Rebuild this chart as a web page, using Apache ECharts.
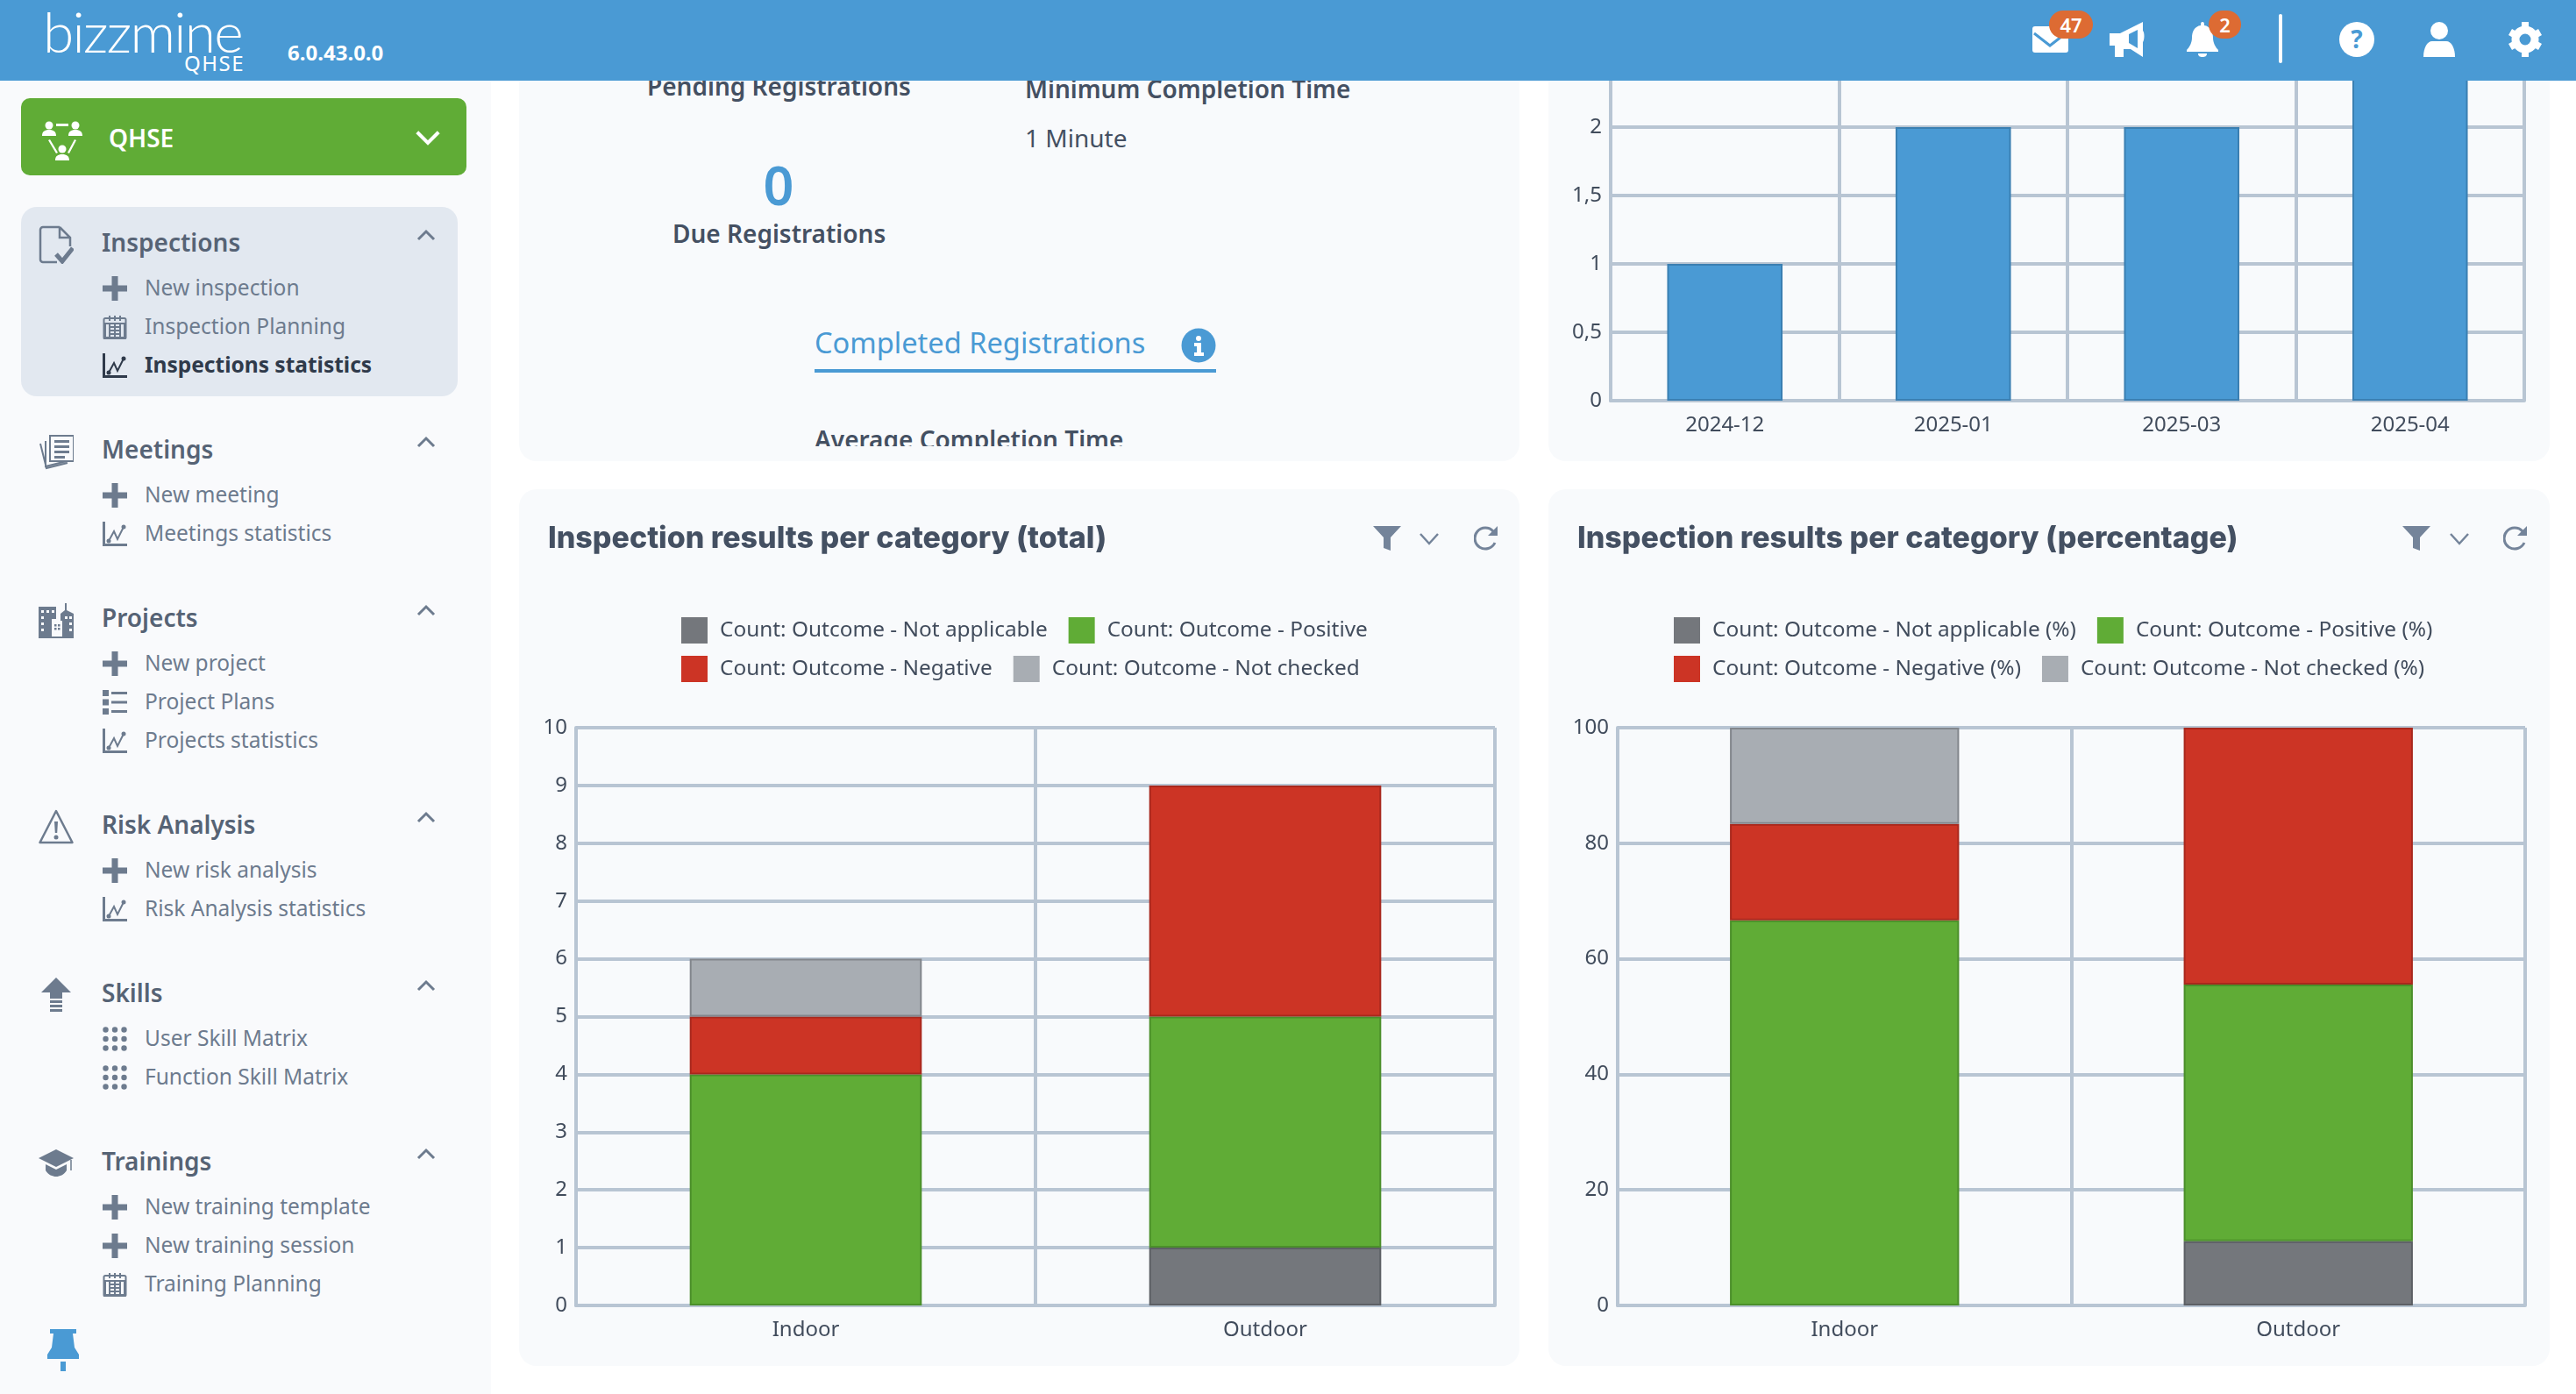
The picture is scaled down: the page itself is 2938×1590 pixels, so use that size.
<!DOCTYPE html>
<html>
<head>
<meta charset="utf-8">
<title>Inspections statistics</title>
<script src="https://cdn.jsdelivr.net/npm/echarts@6/dist/echarts.min.js"></script>
<style>
    html, body { margin: 0; padding: 0; width: 2938px; height: 1590px; overflow: hidden; background: #fff; font-family: "Noto Sans", sans-serif; }
    .abs { position: absolute; }
    .t { position: absolute; white-space: nowrap; line-height: 40px; height: 40px; }
    #header { position: absolute; left: 0; top: 0; width: 2938px; height: 92px; background: #4a9ad4; z-index: 5; }
    #sidebar { position: absolute; left: 0; top: 0; width: 560px; height: 1590px; background: #f9fafc; }
    .panel { position: absolute; background: #f8fafc; border-radius: 20px; overflow: hidden; }
    .chart { position: absolute; }
    .navTitle { font-size: 28px; font-weight: 600; color: #566375; }
    .navItem { font-size: 24.5px; color: #6d7b8e; }
    .navItem.on { font-weight: 700; color: #2f3a4a; }
    .ink { font-size: 28px; font-weight: 600; color: #445062; }
    svg { position: absolute; overflow: visible; }
</style>
</head>
<body>
<svg width="0" height="0" style="position:absolute">
    <defs>
        <symbol id="i-plus" viewBox="0 0 28 28"><path d="M10.500 0h7v10.500H28v7H17.500V28h-7V17.500H0v-7h10.500z" fill="currentColor"/></symbol>
        <symbol id="i-cal" viewBox="0 0 28 28"><path d="M3 4h22a1.500 1.500 0 0 1 1.500 1.500V26a1.500 1.500 0 0 1-1.500 1.500H3A1.500 1.500 0 0 1 1.500 26V5.500A1.500 1.500 0 0 1 3 4zM3 10v16h22V10zM7 14h14M7 18h14M7 22h14M8 10v16M14 10v16M20 10v16M8 1v6M14 1v6M20 1v6" fill="none" stroke="currentColor" stroke-width="2"/></symbol>
        <symbol id="i-chart" viewBox="0 0 28 28"><path d="M1.500 0v26.500H28" fill="none" stroke="currentColor" stroke-width="3"/><path d="M7 22l6-11 4 9 7-14" fill="none" stroke="currentColor" stroke-width="2"/><circle cx="7" cy="22" r="2.500" fill="currentColor"/><circle cx="24" cy="6" r="2.500" fill="currentColor"/></symbol>
        <symbol id="i-list" viewBox="0 0 28 28"><path d="M0 0h7v7H0zM0 10.500h7v7H0zM0 21h7v7H0zM10 2h18v3H10zM10 12.500h18v3H10zM10 23h18v3H10z" fill="currentColor"/></symbol>
        <symbol id="i-dots" viewBox="0 0 28 28"><g fill="currentColor"><circle cx="3.500" cy="3.500" r="3.200"/><circle cx="14" cy="3.500" r="3.200"/><circle cx="24.500" cy="3.500" r="3.200"/><circle cx="3.500" cy="14" r="3.200"/><circle cx="14" cy="14" r="3.200"/><circle cx="24.500" cy="14" r="3.200"/><circle cx="3.500" cy="24.500" r="3.200"/><circle cx="14" cy="24.500" r="3.200"/><circle cx="24.500" cy="24.500" r="3.200"/></g></symbol>
        <symbol id="i-doc" viewBox="0 0 40 44"><path d="M24 2H5a3 3 0 0 0-3 3v34a3 3 0 0 0 3 3h16M24 2l12 12v10M24 2v12h12" fill="none" stroke="currentColor" stroke-width="2.500"/><path d="M20 33l7 8 12-15" fill="none" stroke="currentColor" stroke-width="5"/></symbol>
        <symbol id="i-papers" viewBox="0 0 40 40"><path d="M13 2h27v29H13z" fill="#f9fafc" stroke="currentColor" stroke-width="2"/><path d="M18 7h17v3H18zM18 13h17v3H18zM18 19h17v3H18zM18 25h12v3H18z" fill="currentColor"/><path d="M8 8v29l24-6M2 11l7 28 24-6" fill="none" stroke="currentColor" stroke-width="2"/></symbol>
        <symbol id="i-city" viewBox="0 0 40 42"><path d="M0 6h20v14h-5v15h10V14l5-4V2h2v8l8 4v28H0z" fill="currentColor"/><path d="M3 10h3v3H3zM9 10h3v3H9zM15 10h3v3h-3zM3 17h3v3H3zM3 24h3v3H3zM3 31h3v3H3zM30 17h3v3h-3zM35 17h3v3h-3zM35 24h3v3h-3zM35 31h3v3h-3zM15 22h12v18H15z" fill="#f9fafc"/><path d="M18 26h2.500v2.500H18zM22 26h2.500v2.500H22zM18 30h2.500v2.500H18zM22 30h2.500v2.500H22z" fill="currentColor"/></symbol>
        <symbol id="i-warn" viewBox="0 0 40 40"><path d="M20 2l18.500 36h-37z" fill="none" stroke="currentColor" stroke-width="2.500" stroke-linejoin="round"/><path d="M18 14h4l-.800 13h-2.400z" fill="currentColor"/><circle cx="20" cy="32" r="2.500" fill="currentColor"/></symbol>
        <symbol id="i-up" viewBox="0 0 40 40"><path d="M20 0l17 17H27v7H13v-7H3zM13 26h14v3H13zM13 31h14v3H13zM13 36h14v3H13z" fill="currentColor"/></symbol>
        <symbol id="i-grad" viewBox="0 0 40 32"><path d="M20 0l20 10-20 10L0 10z" fill="currentColor"/><path d="M8 17l12 6 12-6v7c-3 5-8 7-12 7s-9-2-12-7z" fill="currentColor"/><path d="M37 12v12" stroke="currentColor" stroke-width="1.500"/></symbol>
        <symbol id="i-chev" viewBox="0 0 22 14"><path d="M2 12l9-9 9 9" fill="none" stroke="currentColor" stroke-width="3"/></symbol>
        <symbol id="i-funnel" viewBox="0 0 32 28"><path d="M0 0h32L20 13v15l-8-3V13z" fill="currentColor"/></symbol>
        <symbol id="i-refresh" viewBox="0 0 28 28"><path d="M24 19a12 12 0 1 1-2-13" fill="none" stroke="currentColor" stroke-width="3"/><path d="M27 0v11H16z" fill="currentColor"/></symbol>
    </defs>
</svg>

<div id="sidebar"></div>

<div class="panel" style="left:592px;top:40px;width:1141px;height:486px"></div>
<div class="abs" id="topLeft" style="left:592px;top:40px;width:1141px;height:469px;overflow:hidden">
    <div class="t ink" style="left:146px;top:38px">Pending Registrations</div>
    <div class="t ink" style="left:577px;top:41px">Minimum Completion Time</div>
    <div class="t" style="left:577px;top:97px;font-size:28px;color:#445062">1 Minute</div>
    <div class="t" style="left:196px;width:200px;text-align:center;top:141px;font-size:61px;font-weight:600;color:#4a9ad4;line-height:60px;height:60px">0</div>
    <div class="t ink" style="left:175px;top:206px">Due Registrations</div>
    <div class="t" style="left:337px;top:331px;font-size:32.6px;color:#4a9ad4">Completed Registrations</div>
    <svg style="left:755px;top:334px" width="40" height="40" viewBox="0 0 40 40"><circle cx="20" cy="20" r="19.500" fill="#4a9ad4"/><circle cx="20" cy="12" r="3" fill="#fff"/><path d="M15 17h8v11h3v4H15v-4h3v-7h-3z" fill="#fff"/></svg>
    <div class="abs" style="left:337px;top:381px;width:458px;height:4px;background:#4a9ad4"></div>
    <div class="t ink" style="left:337px;top:441px">Average Completion Time</div>
</div>

<div class="panel" style="left:1766px;top:40px;width:1142px;height:486px"></div>
<div class="panel" style="left:592px;top:558px;width:1141px;height:1000px"></div>
<div class="panel" style="left:1766px;top:558px;width:1142px;height:1000px"></div>

<div class="chart" id="chartMonth" style="left:1766px;top:-60px;width:1142px;height:586px"></div>
<div class="chart" id="chartTotal" style="left:592px;top:558px;width:1141px;height:1000px"></div>
<div class="chart" id="chartPct" style="left:1766px;top:558px;width:1142px;height:1000px"></div>

<svg style="left:1566px;top:600px;color:#74849a" width="32" height="28"><use href="#i-funnel"/></svg>
<svg style="left:1618px;top:607px;color:#74849a" width="24" height="15" viewBox="0 0 24 15"><path d="M2 2l10 11L22 2" fill="none" stroke="currentColor" stroke-width="2.500"/></svg>
<svg style="left:1681px;top:600px;color:#74849a" width="28" height="28"><use href="#i-refresh"/></svg>
<svg style="left:2740px;top:600px;color:#74849a" width="32" height="28"><use href="#i-funnel"/></svg>
<svg style="left:2793px;top:607px;color:#74849a" width="24" height="15" viewBox="0 0 24 15"><path d="M2 2l10 11L22 2" fill="none" stroke="currentColor" stroke-width="2.500"/></svg>
<svg style="left:2855px;top:600px;color:#74849a" width="28" height="28"><use href="#i-refresh"/></svg>

<div id="header">
    <div class="t" style="left:49px;top:6px;font-family:Lato;font-weight:300;font-size:64px;color:#fff;line-height:60px;height:60px;letter-spacing:-1.700px">bizzmine</div>
    <div class="t" style="left:210px;top:52px;font-size:24px;color:#fff;letter-spacing:1.500px">QHSE</div>
    <div class="t" style="left:328px;top:40px;font-size:24px;font-weight:700;color:#fff">6.0.43.0.0</div>

    <svg style="left:2318px;top:30px" width="41" height="30" viewBox="0 0 41 30"><rect width="41" height="30" rx="3" fill="#fff"/><path d="M2 8l18 14L38 8" fill="none" stroke="#4a9ad4" stroke-width="3"/></svg>
    <div class="abs" style="left:2337px;top:12px;width:50px;height:32px;border-radius:16px;background:#dd6b33;color:#fff;font-size:22px;font-weight:600;line-height:32px;text-align:center">47</div>
    <svg style="left:2406px;top:25px" width="40" height="40" viewBox="0 0 40 40"><path d="M0 13h12L38 0v10c2 2 2 10 0 13v17L24 31H16v9H6V27H0z" fill="#fff"/><path d="M32 9v21l-10-6V14z" fill="#4a9ad4"/></svg>
    <svg style="left:2494px;top:25px" width="36" height="40" viewBox="0 0 36 40"><path d="M18 0c2 0 2 2 2 4 7 1 10 7 10 14 0 6 3 11 6 14v2H0v-2c3-3 6-8 6-14C6 11 9 5 16 4c0-2 0-4 2-4zM13 36h10c0 3-2 4-5 4s-5-1-5-4z" fill="#fff"/></svg>
    <div class="abs" style="left:2519px;top:12px;width:37px;height:32px;border-radius:16px;background:#dd6b33;color:#fff;font-size:22px;font-weight:600;line-height:32px;text-align:center">2</div>
    <div class="abs" style="left:2599px;top:16px;width:4px;height:56px;border-radius:2px;background:#fff"></div>
    <svg style="left:2668px;top:25px" width="40" height="40" viewBox="0 0 40 40"><circle cx="20" cy="20" r="20" fill="#fff"/><text x="20" y="30" text-anchor="middle" font-size="28" font-weight="700" font-family="Noto Sans" fill="#4a9ad4">?</text></svg>
    <svg style="left:2764px;top:25px" width="36" height="40" viewBox="0 0 36 40"><ellipse cx="18" cy="10" rx="10" ry="10" fill="#fff"/><path d="M0 40c0-10 4-18 10-18h16c6 0 10 8 10 18z" fill="#fff"/></svg>
    <svg style="left:2861px;top:25px" width="38" height="40" viewBox="0 0 38 40"><circle cx="19" cy="20" r="11" fill="none" stroke="#fff" stroke-width="9"/><path d="M15 0h8v8h-8zM15 32h8v8h-8zM0 15l4-7 7 4-4 7zM38 25l-4 7-7-4 4-7zM0 25l4 7 7-4-4-7zM38 15l-4-7-7 4 4 7z" fill="#fff"/></svg>
</div>

<script type="text/javascript">
    // values
    var monthCategories = ['2024-12', '2025-01', '2025-03', '2025-04'];
    var monthValues = [1, 2, 2, 3];

    var outcomeCategories = ['Indoor', 'Outdoor'];
    var notApplicable = [null, 1];
    var positive = [4, 4];
    var negative = [1, 4];
    var notChecked = [1, null];

    var notApplicablePct = [null, 11.11];
    var positivePct = [66.67, 44.44];
    var negativePct = [16.67, 44.44];
    var notCheckedPct = [16.67, null];

    var outcomeNames = ['Count: Outcome - Not applicable', 'Count: Outcome - Positive', 'Count: Outcome - Negative', 'Count: Outcome - Not checked'];
    var outcomeNamesPct = ['Count: Outcome - Not applicable (%)', 'Count: Outcome - Positive (%)', 'Count: Outcome - Negative (%)', 'Count: Outcome - Not checked (%)'];
    var outcomeColors = ['#74777c', '#60ac36', '#cc3425', '#a8adb3'];
    var outcomeBorders = ['#5c5f64', '#4b8f2a', '#a9281d', '#82868c'];

    var navTitles = ['Inspections', 'Meetings', 'Projects', 'Risk Analysis', 'Skills', 'Trainings'];
    var navIcons = ['i-doc', 'i-papers', 'i-city', 'i-warn', 'i-up', 'i-grad'];
    var navTops = [276, 512, 704, 940, 1132, 1324];
    var navItems = [
        [['New inspection', 'i-plus'], ['Inspection Planning', 'i-cal'], ['Inspections statistics', 'i-chart']],
        [['New meeting', 'i-plus'], ['Meetings statistics', 'i-chart']],
        [['New project', 'i-plus'], ['Project Plans', 'i-list'], ['Projects statistics', 'i-chart']],
        [['New risk analysis', 'i-plus'], ['Risk Analysis statistics', 'i-chart']],
        [['User Skill Matrix', 'i-dots'], ['Function Skill Matrix', 'i-dots']],
        [['New training template', 'i-plus'], ['New training session', 'i-plus'], ['Training Planning', 'i-cal']]
    ];

    var gridColor = '#b8c5d3';
    var textColor = '#414c5c';
    var fontName = 'Noto Sans';

    // sidebar
    var html = '';
    html += '<div class="abs" style="left:24px;top:112px;width:508px;height:88px;border-radius:10px;background:#60ac36"></div>';
    html += '<svg style="left:48px;top:138px" width="46" height="46" viewBox="0 0 46 46" fill="#fff"><circle cx="8" cy="5" r="4.500"/><circle cx="38" cy="5" r="4.500"/><circle cx="23" cy="32" r="4.500"/><path d="M0 17c0-5 3-7 8-7s8 2 8 7zM30 17c0-5 3-7 8-7s8 2 8 7zM15 45c0-5 3-7 8-7s8 2 8 7zM16 3h14v3H16z"/><path d="M7 22l9 15 2-1-9-15zM39 22l-8 15-2-1 8-15z"/></svg>';
    html += '<div class="t" style="left:124px;top:137px;font-size:28px;font-weight:600;color:#fff">QHSE</div>';
    html += '<svg style="left:473px;top:148px;color:#fff;transform:rotate(180deg)" width="30" height="19" viewBox="0 0 22 14"><use href="#i-chev"/></svg>';
    html += '<div class="abs" style="left:24px;top:236px;width:498px;height:216px;border-radius:18px;background:#e2e8f0"></div>';
    for (var g = 0; g < navTitles.length; g++) {
        var y = navTops[g];
        html += '<svg style="left:44px;top:' + (y - 19) + 'px;color:#6d7b8e" width="40" height="44"><use href="#' + navIcons[g] + '"/></svg>';
        html += '<div class="t navTitle" style="left:116px;top:' + (y - 20) + 'px">' + navTitles[g] + '</div>';
        html += '<svg style="left:475px;top:' + (y - 15) + 'px;color:#6d7b8e" width="22" height="14"><use href="#i-chev"/></svg>';
        for (var k = 0; k < navItems[g].length; k++) {
            var cy = y + 52 + k * 44;
            var on = navItems[g][k][0] == 'Inspections statistics';
            html += '<svg style="left:117px;top:' + (cy - 13) + 'px;color:' + (on ? '#2f3a4a' : '#6d7b8e') + '" width="28" height="28"><use href="#' + navItems[g][k][1] + '"/></svg>';
            html += '<div class="t navItem' + (on ? ' on' : '') + '" style="left:165px;top:' + (cy - 20) + 'px">' + navItems[g][k][0] + '</div>';
        }
    }
    html += '<svg style="left:54px;top:1516px" width="36" height="48" viewBox="0 0 36 48" fill="#4a9ad4"><path d="M3 0h30v5h-4l2 16 5 8v5H0v-5l5-8L7 5H3zM15 37h6v11h-6z"/></svg>';
    document.getElementById('sidebar').innerHTML = html;

    function axisText(size) {
        return { color: textColor, fontFamily: fontName, fontSize: size };
    }

    function valueAxis(max, interval, formatter) {
        return {
            type: 'value',
            min: 0,
            max: max,
            interval: interval,
            axisLine: { show: true, lineStyle: { color: gridColor, width: 4 } },
            axisTick: { show: false },
            axisLabel: Object.assign(axisText(24), { margin: 10, padding: [7, 0, 0, 0], formatter: formatter }),
            splitLine: { show: true, lineStyle: { color: gridColor, width: 4 } }
        };
    }

    function categoryAxis(categories) {
        return {
            type: 'category',
            data: categories,
            axisLine: { show: true, lineStyle: { color: gridColor, width: 4 } },
            axisTick: { show: false },
            axisLabel: Object.assign(axisText(24), { margin: 16 }),
            splitLine: { show: true, lineStyle: { color: gridColor, width: 4 } }
        };
    }

    function legendRow(names, left, top) {
        return {
            data: names,
            left: left,
            top: top,
            icon: 'rect',
            itemWidth: 30,
            itemHeight: 30,
            itemGap: 24,
            padding: 0,
            selectedMode: false,
            itemStyle: { borderWidth: 0 },
            textStyle: Object.assign(axisText(24.4), { padding: [3, 0, 0, 9] })
        };
    }

    function stackedOption(title, names, seriesData, max, interval, gridLeft, legendLeft, categories) {
        return {
            animation: false,
            title: {
                text: title,
                left: 33,
                top: 40,
                padding: 0,
                textStyle: { color: '#445062', fontFamily: 'Inter', fontWeight: 800, fontSize: 34 }
            },
            legend: [
                legendRow([names[0], names[1]], legendLeft, 146),
                legendRow([names[2], names[3]], legendLeft, 190)
            ],
            grid: { left: gridLeft + 1, right: 28, top: 272, bottom: 69 },
            xAxis: categoryAxis(categories),
            yAxis: valueAxis(max, interval),
            series: names.map(function (name, i) {
                return {
                    name: name,
                    type: 'bar',
                    stack: 'outcome',
                    barWidth: '50.5%',
                    data: seriesData[i],
                    itemStyle: { color: outcomeColors[i], borderColor: outcomeBorders[i], borderWidth: 2 }
                };
            })
        };
    }

    var chartMonth = echarts.init(document.getElementById('chartMonth'));
    chartMonth.setOption({
        animation: false,
        grid: { left: 71, right: 29, top: 49, bottom: 69 },
        xAxis: categoryAxis(monthCategories),
        yAxis: valueAxis(3, 0.5, function (v) { return String(v).replace('.', ','); }),
        series: [{
            type: 'bar',
            barWidth: '50.5%',
            data: monthValues,
            itemStyle: { color: '#4a9ad4', borderColor: '#3a7fb2', borderWidth: 2 }
        }]
    });

    var chartTotal = echarts.init(document.getElementById('chartTotal'));
    chartTotal.setOption(stackedOption('Inspection results per category (total)', outcomeNames,
        [notApplicable, positive, negative, notChecked], 10, 1, 64, 185, outcomeCategories));

    var chartPct = echarts.init(document.getElementById('chartPct'));
    chartPct.setOption(stackedOption('Inspection results per category (percentage)', outcomeNamesPct,
        [notApplicablePct, positivePct, negativePct, notCheckedPct], 100, 20, 78, 143, outcomeCategories));
</script>
</body>
</html>
